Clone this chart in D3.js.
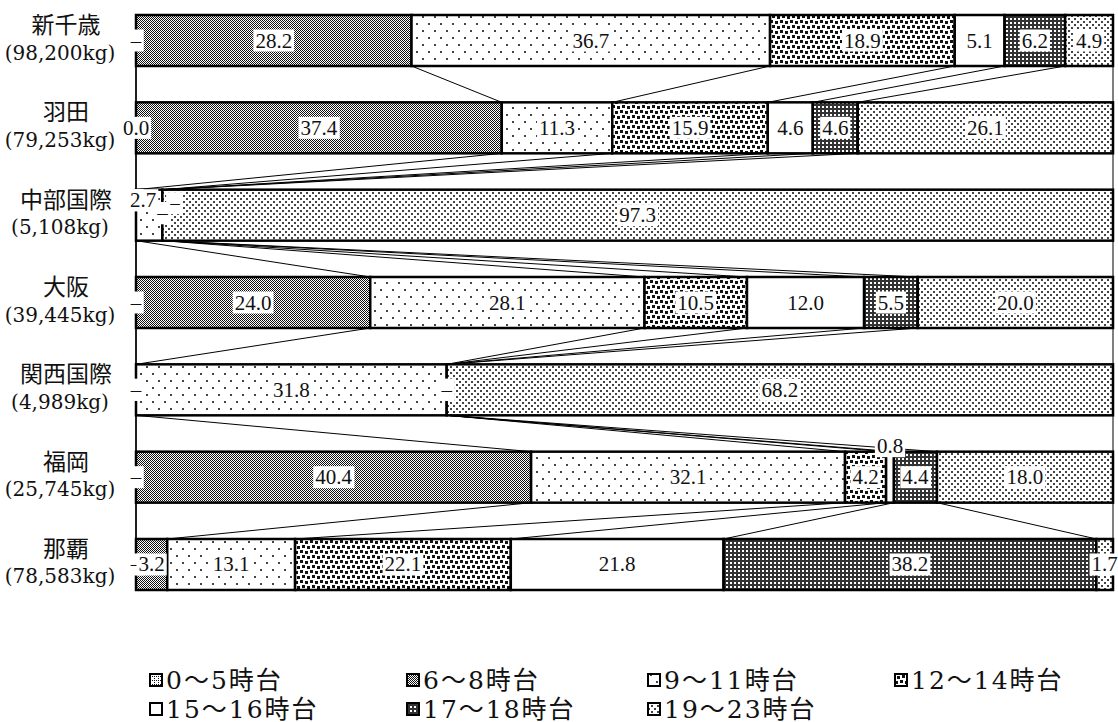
<!DOCTYPE html>
<html>
<head>
<meta charset="utf-8">
<script src="https://cdn.jsdelivr.net/npm/d3@7"></script>
<style>
  body { margin: 0; background: #fff; }
  text { font-family: "Liberation Serif", "DejaVu Serif", "Noto Sans CJK JP", serif; fill: #111; }
  .wide { font-family: "DejaVu Serif", "Noto Sans CJK JP", serif; }
</style>
</head>
<body>
<div id="chart"></div>
<script>
// airports and cargo weights
var categories = ["新千歳", "羽田", "中部国際", "大阪", "関西国際", "福岡", "那覇"];
var weights = ["(98,200kg)", "(79,253kg)", "(5,108kg)", "(39,445kg)", "(4,989kg)", "(25,745kg)", "(78,583kg)"];
var seriesNames = ["0〜5時台", "6〜8時台", "9〜11時台", "12〜14時台", "15〜16時台", "17〜18時台", "19〜23時台"];

// share (%) per time band, null = "–"
var s0 = [null, 0.0, null, null, null, null, null];
var s1 = [28.2, 37.4, null, 24.0, null, 40.4, 3.2];
var s2 = [36.7, 11.3, 2.7, 28.1, 31.8, 32.1, 13.1];
var s3 = [18.9, 15.9, null, 10.5, null, 4.2, 22.1];
var s4 = [5.1, 4.6, null, 12.0, null, 0.8, 21.8];
var s5 = [6.2, 4.6, null, 5.5, null, 4.4, 38.2];
var s6 = [4.9, 26.1, 97.3, 20.0, 68.2, 18.0, 1.7];
var seriesValues = [s0, s1, s2, s3, s4, s5, s6];

// hand-moved data labels
var labelMoves = [
  {cat: "中部国際", s: 0, dx: 0, dy: -15},
  {cat: "中部国際", s: 1, dx: 0, dy: -15},
  {cat: "中部国際", s: 2, dx: -6, dy: -15},
  {cat: "中部国際", s: 3, dx: 12, dy: -12},
  {cat: "中部国際", s: 4, dx: 0, dy: -2},
  {cat: "中部国際", s: 5, dx: 0, dy: -2},
  {cat: "福岡", s: 4, dx: 0, dy: -31}
];

var svg = d3.select("#chart").append("svg")
    .attr("width", 1118)
    .attr("height", 722),
    margin = {top: 15, left: 136, right: 5},
    width = 1118 - margin.left - margin.right,
    plotBottom = 590;

// fill patterns
var defs = svg.append("defs");
function pat(id, w, h, rects, bg) {
  var p = defs.append("pattern").attr("id", id).attr("patternUnits", "userSpaceOnUse")
      .attr("width", w).attr("height", h);
  p.append("rect").attr("width", w).attr("height", h).attr("fill", bg || "#fff");
  rects.forEach(function(r) {
    p.append("rect").attr("x", r[0]).attr("y", r[1]).attr("width", r[2]).attr("height", r[3])
      .attr("fill", r[4] || "#111");
  });
}
pat("p0", 4, 4, [[0,0,1,1],[2,2,1,1],[2,0,1,1]]);
pat("p1", 2, 2, [[0,0,1,1],[1,1,1,1]]);
pat("p2", 12, 14, [[2,2,2,2,"#444"],[8,9,2,2,"#444"]]);
pat("p3", 10, 10, [[0,0,3,3],[5,1,3,3],[2,5,3,3],[7,6,3,3]]);
pat("p4", 4, 4, []);
pat("p5", 4, 4, [[0,0,4,2,"#333"],[0,0,2,4,"#333"]]);
pat("p6", 6, 6, [[0,0,2,2,"#444"],[3,3,2,2,"#444"]]);

var table = categories.map(function(c, i) {
  var row = {cat: c};
  seriesNames.forEach(function(s, j) { row[s] = seriesValues[j][i] || 0; });
  return row;
});

var stacked = d3.stack().keys(seriesNames).offset(d3.stackOffsetExpand)(table);

var x = d3.scaleLinear().domain([0, 1]).range([margin.left, margin.left + width]);
var y = d3.scaleBand().domain(categories).range([margin.top, plotBottom]).paddingInner(0.416).paddingOuter(0);
var bh = y.bandwidth();

var g = svg.append("g");

// series lines between bars
stacked.forEach(function(layer) {
  for (var i = 0; i < categories.length - 1; i++) {
    g.append("line")
      .attr("x1", x(layer[i][1])).attr("y1", y(categories[i]) + bh)
      .attr("x2", x(layer[i + 1][1])).attr("y2", y(categories[i + 1]))
      .attr("stroke", "#000").attr("stroke-width", 1);
  }
});

// left axis line
g.append("line")
  .attr("x1", x(0)).attr("x2", x(0))
  .attr("y1", margin.top).attr("y2", plotBottom)
  .attr("stroke", "#000").attr("stroke-width", 1.5);

// bars
stacked.forEach(function(layer, j) {
  g.selectAll(".bar" + j)
    .data(layer)
    .enter().append("rect")
      .attr("x", function(d) { return x(d[0]); })
      .attr("y", function(d) { return y(d.data.cat); })
      .attr("width", function(d) { return x(d[1]) - x(d[0]); })
      .attr("height", bh)
      .attr("fill", "url(#p" + j + ")")
      .attr("stroke", "#000")
      .attr("stroke-width", function(d) { return (d[1] - d[0]) > 0 ? 2.5 : 0; });
});

// data labels
var lg = svg.append("g");
stacked.forEach(function(layer, j) {
  layer.forEach(function(d, i) {
    var v = seriesValues[j][i];
    var txt = v === null ? "–" : v.toFixed(1);
    var mv = labelMoves.find(function(m) { return m.cat === d.data.cat && m.s === j; });
    var cx = (x(d[0]) + x(d[1])) / 2 + (mv ? mv.dx : 0);
    var cy = y(d.data.cat) + bh / 2 + (mv ? mv.dy : 0);
    var box = lg.append("rect").attr("fill", "#fff");
    var t = lg.append("text")
      .attr("x", cx).attr("y", cy)
      .attr("text-anchor", "middle")
      .attr("dominant-baseline", "central")
      .style("font-size", "21px")
      .text(txt);
    var b = t.node().getBBox();
    box.attr("x", b.x - 2).attr("y", b.y + 1).attr("width", b.width + 4).attr("height", b.height - 2);
  });
});

// category labels
categories.forEach(function(c, i) {
  var cy = y(c) + bh / 2;
  svg.append("text").attr("x", 66).attr("y", cy - 15)
    .attr("text-anchor", "middle").attr("dominant-baseline", "central")
    .style("font-size", "23px").text(c);
  svg.append("text").attr("class", "wide").attr("x", 60).attr("y", cy + 12)
    .attr("text-anchor", "middle").attr("dominant-baseline", "central")
    .style("font-size", "20px").text(weights[i]);
});

// legend
var legX = [150, 407, 648, 895];
var legY = [680, 709];
seriesNames.forEach(function(s, j) {
  var lx = legX[j % 4], ly = legY[Math.floor(j / 4)];
  svg.append("rect")
    .attr("x", lx).attr("y", ly - 6).attr("width", 12).attr("height", 12)
    .attr("fill", "url(#p" + j + ")").attr("stroke", "#000").attr("stroke-width", 2);
  svg.append("text").attr("class", "wide")
    .attr("x", lx + 16).attr("y", ly)
    .attr("dominant-baseline", "central")
    .style("font-size", "25px")
    .style("letter-spacing", "2px")
    .text(s);
});
</script>
</body>
</html>
